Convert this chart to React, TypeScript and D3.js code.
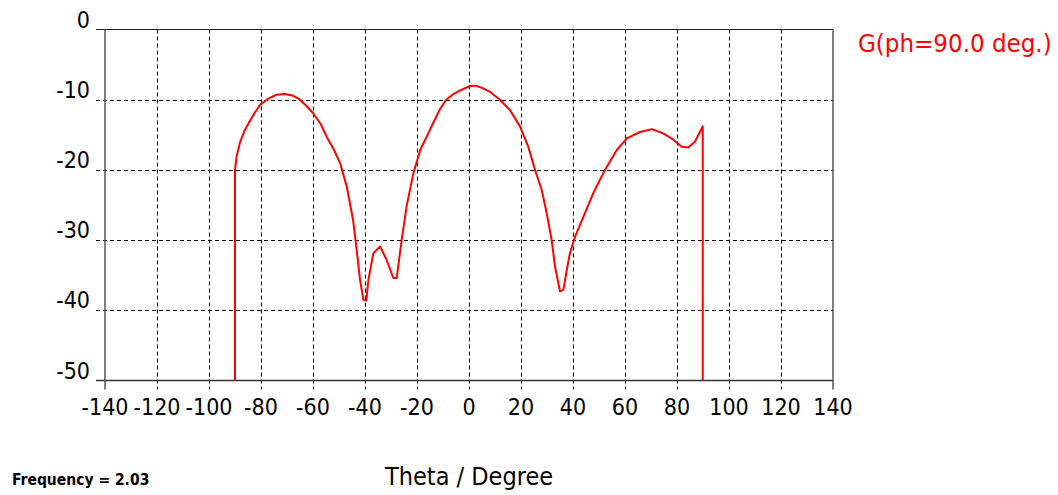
import React from "react";
import * as d3 from "d3";

// Data
const thetaDeg: number[] = [
  -90, -90, -89.4, -88, -86.2, -83, -80.4, -77, -74, -70.8, -68, -65, -62.5, -60, -57, -54.7, -52, -49.6,
  -47, -44.6, -43.2, -41.9, -40.6, -39.5, -38.7, -36.8, -34.2, -31.7, -29.1, -27.8, -25.9, -24, -21.4,
  -18.8, -16.3, -13.5, -11.2, -8.8, -6, -3, 0.4, 2.3, 5, 8.1, 11.9, 15.8, 19.6, 22.8, 25.4, 28, 29.9,
  31.8, 33.1, 35, 36.3, 37.6, 38.8, 40.8, 44, 47.8, 52.3, 56.8, 60.7, 65.8, 70.3, 74.7, 78.6, 81.8, 84.3,
  86.9, 89.9, 89.9,
];
const gainDb: number[] = [
  -50, -20, -18.1, -16, -14.3, -12.2, -10.75, -9.8, -9.3, -9.2, -9.4, -10.0, -10.9, -11.9, -13.5, -15.3,
  -17.1, -19.0, -22.4, -27.1, -31.4, -35.7, -38.5, -38.6, -35.7, -31.9, -30.9, -32.8, -35.4, -35.4,
  -30.0, -25.2, -20.5, -17.2, -15.3, -13.1, -11.4, -10.0, -9.2, -8.6, -8.05, -8.0, -8.3, -8.9, -10.0,
  -11.5, -13.8, -16.7, -20.0, -22.9, -26.2, -30.0, -33.8, -37.3, -37.1, -34.3, -31.9, -29.5, -26.7,
  -23.3, -20.0, -17.2, -15.5, -14.6, -14.2, -14.8, -15.7, -16.7, -16.8, -16.0, -13.8, -50,
];
const xTicks: number[] = [-140, -120, -100, -80, -60, -40, -20, 0, 20, 40, 60, 80, 100, 120, 140];
const yTicks: number[] = [0, -10, -20, -30, -40, -50];
const seriesLabel = "G(ph=90.0 deg.)";
const xTitle = "Theta / Degree";
const footNote = "Frequency = 2.03";

const W = 1058;
const H = 495;
const left = 105;
const right = 833;
const top = 29.5;
const bottom = 380.5;
const overhang = 9;

const font = "'DejaVu Sans', 'Liberation Sans', sans-serif";

export default function App() {
  const x = d3.scaleLinear().domain([-140, 140]).range([left, right]);
  const y = d3.scaleLinear().domain([-50, 0]).range([bottom, top]);
  const pts: [number, number][] = thetaDeg.map((t, i) => [t, gainDb[i]]);
  const line = d3
    .line<[number, number]>()
    .x((d) => x(d[0]))
    .y((d) => y(d[1]));

  const innerX = xTicks.filter((t) => t !== -140 && t !== 140);
  const innerY = yTicks.filter((t) => t !== 0 && t !== -50);

  return (
    <svg
      width={W}
      height={H}
      style={{ position: "absolute", left: 0, top: 0, background: "#fff" }}
    >
      <rect x={0} y={0} width={W} height={H} fill="#fff" />
      {/* grid */}
      {innerX.map((t) => (
        <line
          key={"gx" + t}
          x1={Math.round(x(t)) + 0.5}
          x2={Math.round(x(t)) + 0.5}
          y1={top}
          y2={bottom + overhang}
          stroke="#000"
          strokeWidth={1}
          strokeDasharray="4,3"
        />
      ))}
      {innerY.map((t) => (
        <line
          key={"gy" + t}
          x1={left - overhang}
          x2={right}
          y1={Math.round(y(t)) + 0.5}
          y2={Math.round(y(t)) + 0.5}
          stroke="#000"
          strokeWidth={1}
          strokeDasharray="4,3"
        />
      ))}
      {/* frame */}
      <line x1={left - overhang} x2={right} y1={top} y2={top} stroke="#222" strokeWidth={1.2} />
      <line x1={left - overhang} x2={right} y1={bottom} y2={bottom} stroke="#333" strokeWidth={1.5} />
      <line x1={left} x2={left} y1={top} y2={bottom + overhang} stroke="#555" strokeWidth={1.5} />
      <line x1={right} x2={right} y1={top} y2={bottom + overhang} stroke="#555" strokeWidth={1.5} />
      {/* curve */}
      <path d={line(pts) || ""} fill="none" stroke="#ff0000" strokeWidth={2} strokeLinejoin="round" />
      {/* y tick labels */}
      {yTicks.map((t) => (
        <text
          key={"yl" + t}
          x={90}
          y={y(t) - 2}
          textAnchor="end"
          fontFamily={font}
          fontSize={23}
          style={{ fontStretch: "condensed" }}
          fill="#000"
        >
          {t}
        </text>
      ))}
      {/* x tick labels */}
      {xTicks.map((t) => (
        <text
          key={"xl" + t}
          x={x(t)}
          y={415}
          textAnchor="middle"
          fontFamily={font}
          fontSize={23}
          style={{ fontStretch: "condensed" }}
          fill="#000"
        >
          {t}
        </text>
      ))}
      {/* legend */}
      <text
        x={858}
        y={52}
        fontFamily={font}
        fontSize={25.6}
        style={{ fontStretch: "condensed" }}
        fill="#ff0000"
      >
        {seriesLabel}
      </text>
      {/* axis title */}
      <text
        x={385}
        y={485}
        fontFamily={font}
        fontSize={25}
        style={{ fontStretch: "condensed" }}
        fill="#000"
      >
        {xTitle}
      </text>
      <text
        x={12}
        y={485}
        fontFamily={font}
        fontSize={15.5}
        fontWeight="bold"
        style={{ fontStretch: "condensed" }}
        fill="#000"
      >
        {footNote}
      </text>
    </svg>
  );
}
